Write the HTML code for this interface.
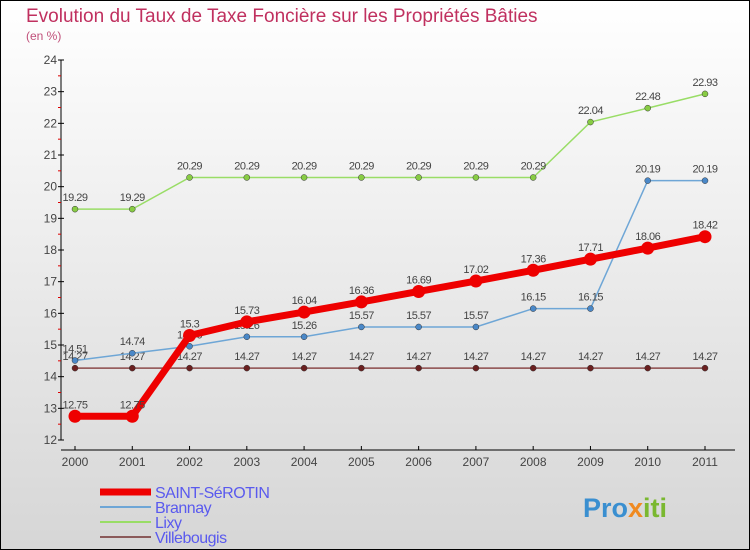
<!DOCTYPE html>
<html><head><meta charset="utf-8"><style>
html,body{margin:0;padding:0}
body{width:750px;height:550px;overflow:hidden;font-family:"Liberation Sans",sans-serif}
</style></head><body>
<svg id="chart" width="750" height="550" xmlns="http://www.w3.org/2000/svg" style="display:block">
<defs><linearGradient id="bg" x1="0" y1="0" x2="0" y2="1"><stop offset="0" stop-color="#ffffff"/><stop offset="1" stop-color="#d6d6d6"/></linearGradient></defs>
<rect x="0.5" y="0.5" width="749" height="549" fill="url(#bg)" stroke="#000"/>
<text x="26" y="22" font-size="19" fill="#c0305f">Evolution du Taux de Taxe Foncière sur les Propriétés Bâties</text>
<text x="26" y="40" font-size="12" fill="#c0507a">(en %)</text>
<g id="axes"></g><g id="series"></g><g id="legend"></g>
<text x="583" y="517" font-size="27" font-weight="bold" fill="#3a8fd0" font-family="Liberation Sans,sans-serif">Pro<tspan fill="#f08a20">x</tspan><tspan fill="#7ab830">iti</tspan></text>
</svg>
<script>
const years=['2000','2001','2002','2003','2004','2005','2006','2007','2008','2009','2010','2011'];
const yTicks=[12,13,14,15,16,17,18,19,20,21,22,23,24];
const saint=[12.75,12.75,15.3,15.73,16.04,16.36,16.69,17.02,17.36,17.71,18.06,18.42];
const brannay=[14.51,14.74,14.96,15.26,15.26,15.57,15.57,15.57,16.15,16.15,20.19,20.19];
const lixy=[19.29,19.29,20.29,20.29,20.29,20.29,20.29,20.29,20.29,22.04,22.48,22.93];
const ville=[14.27,14.27,14.27,14.27,14.27,14.27,14.27,14.27,14.27,14.27,14.27,14.27];
const NS='http://www.w3.org/2000/svg';
const X=i=>75+i*(630/11);
const Y=v=>440-(v-12)*(380/12);
function mk(tag,attrs,parent,txt){const e=document.createElementNS(NS,tag);for(const k in attrs)e.setAttribute(k,attrs[k]);if(txt!==undefined)e.textContent=txt;parent.appendChild(e);return e;}
const ax=document.getElementById('axes');
let e=mk('line',{x1:61,y1:60,x2:61,y2:440,stroke:'#000'},ax);


e=mk('line',{x1:61,y1:450,x2:735,y2:450,stroke:'#000'},ax);


yTicks.forEach(v=>{
  mk('line',{x1:58,y1:Y(v),x2:64,y2:Y(v),stroke:'#000'},ax);
  if(v<24)mk('line',{x1:58,y1:Y(v+0.5),x2:61,y2:Y(v+0.5),stroke:'#d00'},ax);
  const t=mk('text',{x:57,y:Y(v)+4,'font-size':12,fill:'#444','text-anchor':'end'},ax,String(v));
  
  
});
years.forEach((y,i)=>{
  mk('line',{x1:X(i),y1:446,x2:X(i),y2:450,stroke:'#000'},ax);
  const t=mk('text',{x:X(i),y:466,'font-size':12,fill:'#444','text-anchor':'middle'},ax,y);
  
  
});
const sg=document.getElementById('series');
function series(data,color,w,r,name,dot){
  const g=mk('g',{},sg);
  
  
  mk('polyline',{points:data.map((v,i)=>X(i)+','+Y(v)).join(' '),fill:'none',stroke:color,'stroke-width':w},g);
  data.forEach((v,i)=>{
    const c=mk('circle',{cx:X(i),cy:Y(v),r:r,fill:dot,stroke:r>4?'none':'#333','stroke-width':0.5},g);
    
    
    const t=mk('text',{x:X(i),y:Y(v)-8,'font-size':11,fill:'#444','text-anchor':'middle','letter-spacing':'-0.5'},g,String(v));
    
    
  });
}
series(ville,'#8b4a4a',1.5,3,'villebougis','#6b2020');
series(lixy,'#99dd66',1.5,3,'lixy','#88cc44');
series(brannay,'#6ea6d6',1.5,3,'brannay','#4a88c8');
series(saint,'#ee0000',7,6.5,'saint-serotin','#ee0000');
const lg=document.getElementById('legend');
const items=[['SAINT-SéROTIN','#ee0000',7],['Brannay','#6ea6d6',2],['Lixy','#99dd66',2],['Villebougis','#8b5a5a',2]];
items.forEach((it,k)=>{
  const y=492+k*15;
  const g=mk('g',{},lg);
  
  
  mk('line',{x1:100,y1:y,x2:151,y2:y,stroke:it[1],'stroke-width':it[2]},g);
  mk('text',{x:155,y:y+6,'font-size':16,fill:'#5a5aee','letter-spacing':'-0.5'},g,it[0]);
});
</script>
</body></html>
